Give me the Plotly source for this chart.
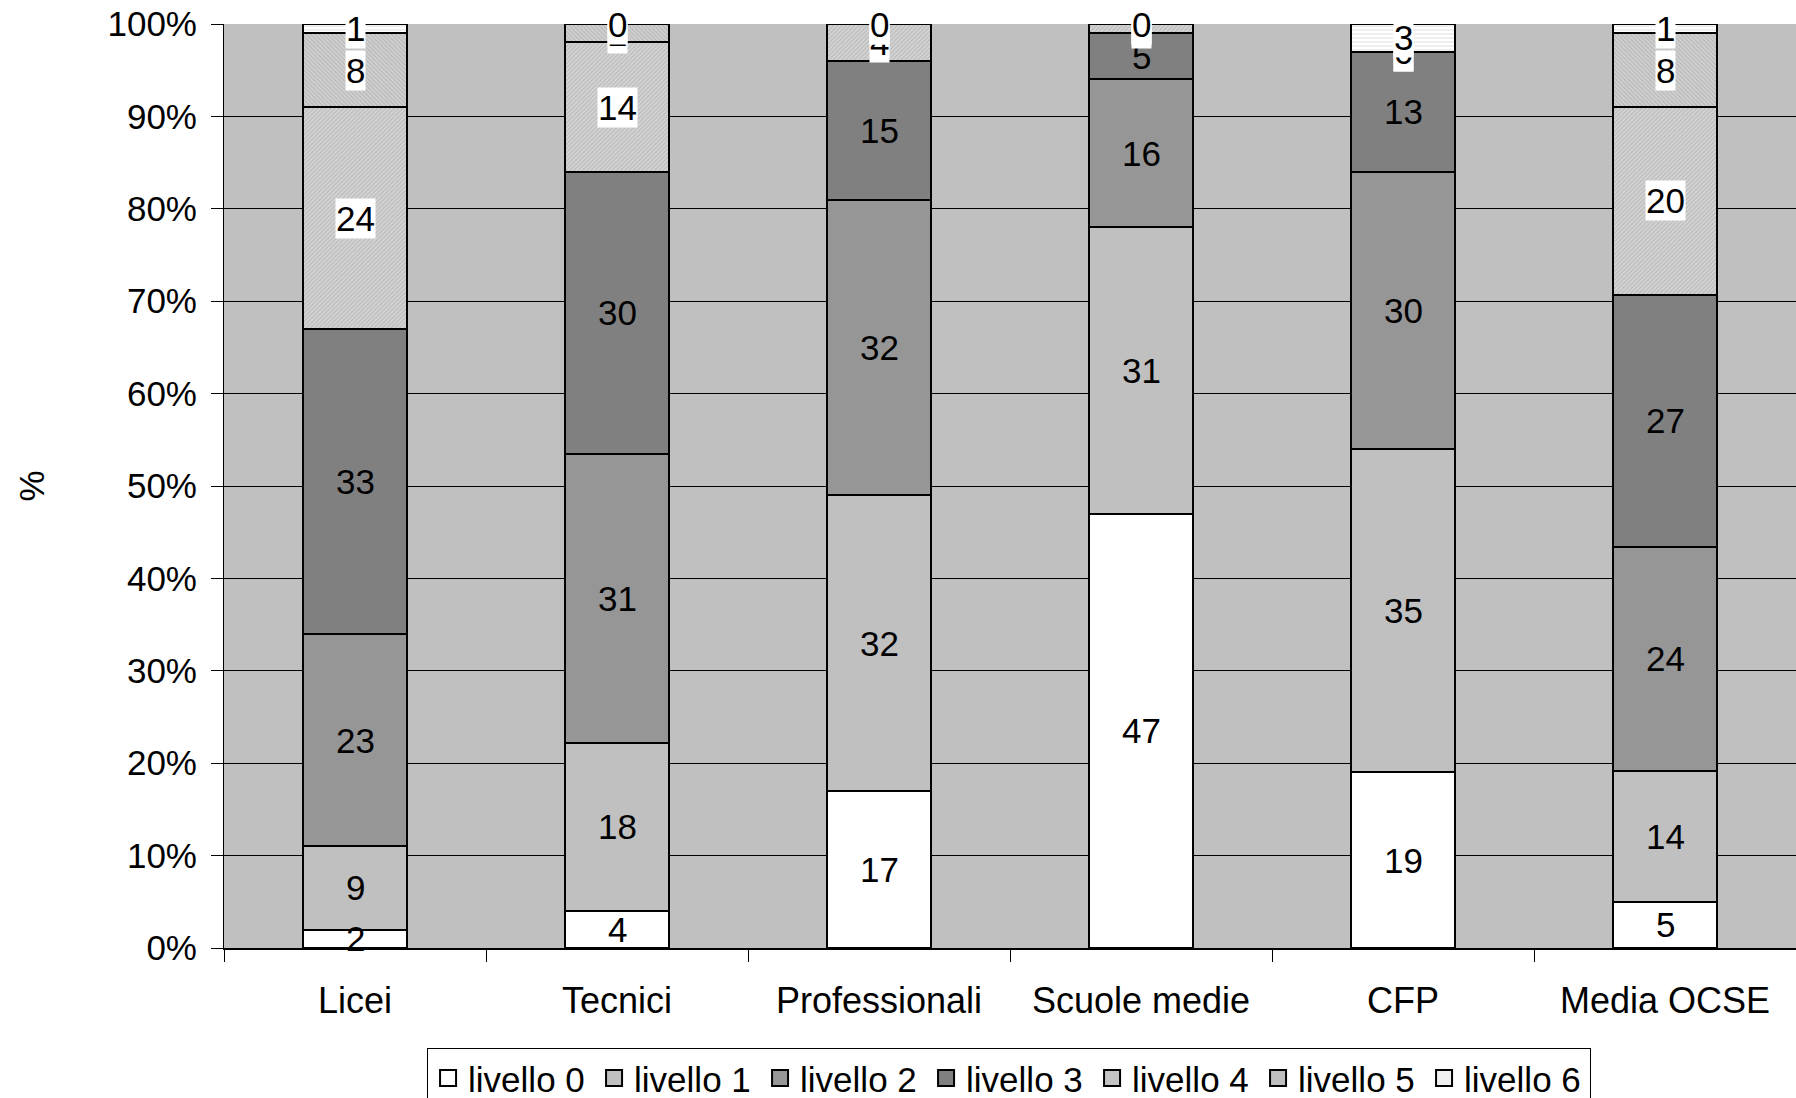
import plotly.graph_objects as go

categories = ["Licei", "Tecnici", "Professionali", "Scuole medie", "CFP", "Media OCSE"]
levels = ["livello 0", "livello 1", "livello 2", "livello 3", "livello 4", "livello 5", "livello 6"]

livello_0 = [2, 4.0, 17, 47, 19, 5.0]
livello_1 = [9, 18.2, 32, 31, 35, 14.2]
livello_2 = [23, 31.3, 32, 16, 30, 24.2]
livello_3 = [33, 30.5, 15, 5, 13, 27.3]
livello_4 = [24, 14.0, 4, 1, 0, 20.3]
livello_5 = [8, 2.0, 0, 0, 0, 8.0]
livello_6 = [1, 0.0, 0, 0, 3, 1.0]

series = [livello_0, livello_1, livello_2, livello_3, livello_4, livello_5, livello_6]

yticks = list(range(0, 101, 10))

FONT = "Liberation Sans, Arial, sans-serif"
FS = 35

styles = [
    dict(color="#FFFFFF", legend="#FFFFFF"),
    dict(color="#C0C0C0", legend="#C0C0C0"),
    dict(color="#969696", legend="#969696"),
    dict(color="#808080", legend="#808080"),
    dict(color="#D4D4D4", legend="#C4C4C4",
         pattern=dict(shape="/", fgcolor="#9A9A9A", bgcolor="#D4D4D4", size=3, solidity=0.35)),
    dict(color="#CCCCCC", legend="#BEBEBE",
         pattern=dict(shape="\\", fgcolor="#999999", bgcolor="#D0D0D0", size=3, solidity=0.35)),
    dict(color="#FFFFFF", legend="#F0F0F0",
         pattern=dict(shape="-", fgcolor="#C8C8C8", bgcolor="#FFFFFF", size=4, solidity=0.3)),
]

fig = go.Figure()
for name, vals, st in zip(levels, series, styles):
    marker = dict(color=st["color"], line=dict(color="black", width=2))
    if "pattern" in st:
        marker["pattern"] = st["pattern"]
    fig.add_trace(go.Bar(
        x=categories, y=vals, name=name, marker=marker, width=0.4,
        hoverinfo="skip", showlegend=False, legendgroup=name,
    ))

# legend entries (square symbols, as in the original legend)
for name, st in zip(levels, styles):
    fig.add_trace(go.Scatter(
        x=[None], y=[None], mode="markers", name=name, legendgroup=name,
        marker=dict(symbol="square", size=16, color=st["legend"],
                    line=dict(color="black", width=2)),
        hoverinfo="skip",
    ))

# value labels
annotations = []
cum = [0.0] * len(categories)
for li, vals in enumerate(series):
    for ci, v in enumerate(vals):
        mid = cum[ci] + v / 2
        a = dict(x=categories[ci], y=mid, xref="x", yref="y", text=str(int(round(v))),
                 showarrow=False, font=dict(family=FONT, size=FS, color="black"))
        if li >= 4:
            a.update(bgcolor="white", borderpad=0)
        annotations.append(a)
        cum[ci] += v

fig.update_layout(
    barmode="stack",
    width=1796, height=1098,
    margin=dict(l=224, r=0, t=24, b=150, autoexpand=False),
    paper_bgcolor="white",
    plot_bgcolor="#C0C0C0",
    font=dict(family=FONT, size=FS, color="black"),
    annotations=annotations,
    showlegend=True,
    legend=dict(
        orientation="h", x=0.4994, xanchor="center", y=-0.108, yanchor="top",
        bordercolor="black", borderwidth=1, bgcolor="white",
        font=dict(family=FONT, size=FS), traceorder="normal",
        entrywidth=121, entrywidthmode="pixels", itemwidth=30,
    ),
    bargap=0.6,
)
fig.update_yaxes(
    range=[0, 100], tickvals=yticks, ticktext=[f"{t}%" for t in yticks],
    showgrid=True, gridcolor="black", gridwidth=1,
    ticks="outside", ticklen=12, tickcolor="black", tickwidth=1,
    ticklabelstandoff=7,
    showline=True, linecolor="black", linewidth=1,
    title=dict(text="%", standoff=52, font=dict(family=FONT, size=FS)),
    zeroline=False,
)
fig.update_xaxes(
    tickson="boundaries", ticks="outside", ticklen=12, tickcolor="black",
    showline=True, linecolor="black", linewidth=1.5,
    ticklabelstandoff=20, tickfont=dict(family=FONT, size=36),
    showgrid=False,
)

fig.write_html("out.html")
